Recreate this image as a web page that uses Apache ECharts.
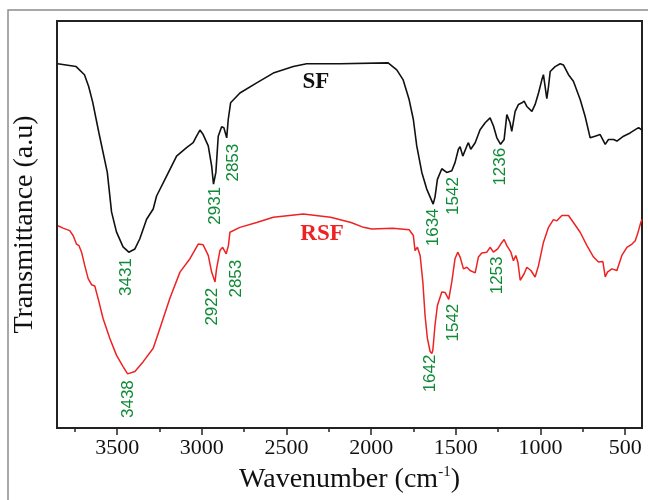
<!DOCTYPE html>
<html><head><meta charset="utf-8">
<script src="https://cdn.jsdelivr.net/npm/echarts@6/dist/echarts.min.js"></script>
<style>html,body{margin:0;padding:0;background:#fff}#c{width:648px;height:500px}</style>
</head><body><div id="c"></div>
<script>
// Wavenumber (cm-1) and transmittance (a.u.)
const sfX = [3851,3742,3693,3668,3644,3608,3558,3533,3504,3465,3431,3395,3366,3326,3287,3267,3208,3149,3090,3051,3031,3011,2992,2962,2942,2931,2917,2903,2883,2870,2853,2844,2830,2775,2676,2578,2460,2381,2184,1900,1849,1812,1776,1751,1731,1701,1672,1634,1623,1609,1583,1554,1524,1505,1485,1475,1459,1435,1426,1412,1386,1357,1327,1298,1278,1258,1236,1215,1199,1190,1180,1170,1160,1150,1130,1110,1097,1081,1051,1032,1012,992,983,973,963,953,943,914,884,865,835,806,766,737,707,678,648,618,599,569,549,510,471,441,421,401];
const sfY = [89.5,88.8,86.8,83.9,80.0,72.6,62.8,53.1,48.2,44.5,43.2,44.0,46.5,51.3,53.8,57.0,61.9,66.8,68.9,70.1,71.7,73.2,72.1,69.3,64.4,59.9,62.8,71.7,74.0,73.8,71.3,75.8,79.9,82.3,84.8,87.2,88.8,89.5,89.5,89.7,88.0,85.6,80.7,75.8,69.3,62.8,58.7,55.0,56.8,61.1,63.7,62.8,63.2,65.2,68.5,69.1,66.8,69.3,70.1,68.5,70.1,73.3,75.0,76.2,74.2,71.3,69.7,70.9,77.0,77.4,75.0,72.9,72.5,77.8,79.5,79.9,80.3,79.0,77.8,79.5,82.3,85.6,86.8,83.9,80.9,83.9,87.6,88.8,89.5,89.2,86.8,85.2,80.7,76.6,71.3,71.7,72.1,69.7,70.9,70.9,70.5,71.7,72.5,73.3,73.8,73.2];
const rsfX = [3849,3819,3780,3760,3740,3725,3710,3691,3671,3651,3632,3612,3583,3543,3504,3465,3438,3395,3346,3287,3248,3189,3129,3070,3021,2992,2962,2942,2922,2913,2893,2877,2856,2843,2834,2775,2676,2578,2401,2240,2119,2045,1996,1873,1776,1751,1741,1727,1711,1695,1682,1668,1652,1642,1636,1623,1609,1583,1564,1542,1524,1505,1489,1475,1455,1435,1416,1386,1367,1347,1317,1298,1278,1253,1235,1215,1199,1175,1160,1146,1134,1120,1110,1097,1081,1057,1032,1012,983,953,924,904,874,835,806,766,726,687,658,632,618,605,579,549,520,490,460,441,427,411,401];
const rsfY = [49.7,49.1,48.5,47.3,45.2,44.8,43.2,39.9,36.7,35.2,34.9,31.8,26.9,22.0,17.9,15.1,13.3,13.9,16.3,19.6,24.4,31.8,38.3,41.6,45.2,45.0,42.4,38.3,35.9,39.1,43.6,44.4,42.8,44.8,48.1,49.3,50.5,51.8,52.6,51.8,50.5,49.3,48.9,49.1,48.7,47.3,43.6,44.4,42.4,35.9,27.7,22.0,18.8,18.3,19.1,25.3,30.1,33.4,33.3,31.6,35.9,41.6,43.2,42.0,39.1,39.5,38.7,38.1,42.0,43.0,43.2,44.4,43.2,44.0,45.2,46.3,44.8,43.2,41.1,42.4,40.8,36.3,35.9,37.9,39.5,38.7,37.1,39.9,45.6,49.3,51.2,50.9,52.2,52.2,50.5,48.1,44.8,42.0,40.8,40.9,37.1,38.3,39.1,38.7,42.4,44.4,45.2,46.0,47.7,50.1,51.3];

// Peak annotations (text, and where the label sits in data units)
const peakText = ['3431','2931','2853','1634','1542','1236','3438','2922','2853','1642','1542','1253'];
const peakLabelX = [3444,2919,2815,1634,1515,1239,3431,2936,2794,1648,1515,1253];
const peakLabelY = [37.1,54.6,65.2,49.3,57.0,64.2,7.1,29.8,36.7,13.4,25.9,37.5];

const seriesNames = ['SF','RSF'];
const seriesColors = ['#111111','#ee2222'];
const nameLabelX = [2327,2290];
const nameLabelY = [85.0,47.7];

const majorTicks = [3500,3000,2500,2000,1500,1000,500];
const minorTicks = [3750,3250,2750,2250,1750,1250,750];
const xMin = 401, xMax = 3855;

const chart = echarts.init(document.getElementById('c'));
const zip = (a,b)=>a.map((v,i)=>[v,b[i]]);
const serif = 'Liberation Serif, Times New Roman, serif';

chart.setOption({
  animation:false,
  backgroundColor:'#fff',
  graphic:[{type:'rect',shape:{x:8,y:10,width:700,height:600},style:{fill:'none',stroke:'#8c8c8c',lineWidth:1.5},silent:true}],
  grid:{left:57,right:6,top:21,bottom:70,show:true,borderColor:'#222',borderWidth:2,backgroundColor:'transparent'},
  xAxis:[{
    type:'value',inverse:true,min:xMin,max:xMax,
    axisLine:{show:true,lineStyle:{color:'#222',width:2}},
    axisTick:{show:true,customValues:majorTicks,length:7,lineStyle:{color:'#222',width:1.5}},
    axisLabel:{customValues:majorTicks,formatter:v=>String(v),fontFamily:serif,fontSize:22,color:'#111',margin:9},
    splitLine:{show:false},
    name:'Wavenumber (cm{s|-1})',nameLocation:'middle',nameGap:37,
    nameTextStyle:{fontFamily:serif,fontSize:28,color:'#111',lineHeight:30,
      rich:{s:{fontFamily:serif,fontSize:15,verticalAlign:'top',lineHeight:30,padding:[0,0,12,0]}}}
  },{
    type:'value',inverse:true,min:xMin,max:xMax,position:'bottom',
    axisLine:{show:false},
    axisTick:{show:true,customValues:minorTicks,length:4,lineStyle:{color:'#222',width:1.5}},
    axisLabel:{show:false},splitLine:{show:false}
  }],
  yAxis:{
    type:'value',min:0,max:100,
    axisLine:{show:true,lineStyle:{color:'#222',width:2}},
    axisTick:{show:false},axisLabel:{show:false},splitLine:{show:false},
    name:'Transmittance (a.u)',nameLocation:'middle',nameGap:18,
    nameTextStyle:{fontFamily:serif,fontSize:28,color:'#111'}
  },
  series:[
    {type:'line',name:'SF',data:zip(sfX,sfY),showSymbol:false,lineStyle:{color:seriesColors[0],width:1.6},itemStyle:{color:seriesColors[0]}},
    {type:'line',name:'RSF',data:zip(rsfX,rsfY),showSymbol:false,lineStyle:{color:seriesColors[1],width:1.5},itemStyle:{color:seriesColors[1]}},
    {type:'scatter',data:peakText.map((t,i)=>({value:[peakLabelX[i],peakLabelY[i]],name:t})),
     symbolSize:1,silent:true,itemStyle:{color:'rgba(0,0,0,0)',opacity:1},
     label:{show:true,position:'inside',rotate:90,formatter:p=>p.name,textBorderWidth:0,opacity:1,
       fontFamily:'Liberation Sans, Arial, sans-serif',fontSize:17,color:'#0f8a37'}},
    {type:'scatter',data:seriesNames.map((t,i)=>({value:[nameLabelX[i],nameLabelY[i]],name:t,
       label:{color:seriesColors[i]}})),
     symbolSize:1,silent:true,itemStyle:{color:'rgba(0,0,0,0)',opacity:1},
     label:{show:true,position:'inside',formatter:p=>p.name,textBorderWidth:0,opacity:1,
       fontFamily:serif,fontWeight:'bold',fontSize:23}}
  ]
});
</script></body></html>
